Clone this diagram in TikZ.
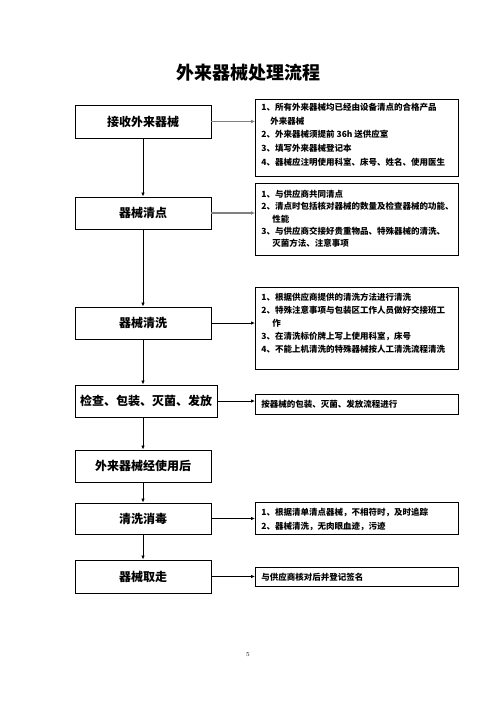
\documentclass[tikz,border=0pt]{standalone}
\usepackage{fontspec}
\newfontfamily\cjk{Noto Sans CJK SC}
\usetikzlibrary{arrows.meta}
\newcommand\rbtext[4]{\parbox[c][#1pt][t]{191pt}{\raggedright\fontsize{8.5pt}{#3pt}\selectfont\vspace*{#2pt}#4}}
\tikzset{
  lbox/.style={draw, line width=0.9pt, minimum width=136pt, minimum height=32pt, inner sep=0pt, font=\cjk\bfseries\fontsize{12pt}{14pt}\selectfont},
  rbox/.style={draw, line width=0.9pt, anchor=north west, inner xsep=6pt, inner ysep=0pt, font=\cjk\bfseries},
  varrow/.style={line width=0.8pt, -{Latex[length=4pt,width=3.5pt]}},
  harrow/.style={line width=0.8pt, -{Latex[length=4pt,width=3.5pt]}},
  garrow/.style={line width=1.6pt, draw=black!50, -{Latex[length=4pt,width=4pt]}, shorten >=0pt},
  titlestyle/.style={font=\cjk\bfseries\fontsize{18pt}{20pt}\selectfont, inner sep=0pt}
}
\begin{document}
\begin{tikzpicture}[x=1pt,y=-1pt]
\useasboundingbox (0,0) rectangle (496,702);
\node[titlestyle] (t) at (248,73) {外来器械处理流程};

\node[lbox, minimum height=33pt] (b1) at (143,121.5) {接收外来器械};
\node[lbox] (b2) at (143,213) {器械清点};
\node[lbox] (b3) at (143,323) {器械清洗};
\node[lbox, minimum width=142pt] (b4) at (146,401) {检查、包装、灭菌、发放};
\node[lbox] (b5) at (143,466) {外来器械经使用后};
\node[lbox, minimum height=31pt] (b6) at (143,518.5) {清洗消毒};
\node[lbox, minimum height=33pt] (b7) at (143,576.5) {器械取走};

\node[rbox] (r1) at (255,99) {\rbtext{77}{3.7}{13.7}{1、所有外来器械均已经由设备清点的合格产品\\\hspace*{9pt}外来器械\\2、外来器械须提前 36h 送供应室\\3、填写外来器械登记本\\4、器械应注明使用科室、床号、姓名、使用医生}};
\node[rbox] (r2) at (255,183) {\rbtext{72}{6.7}{12.3}{1、与供应商共同清点\\2、清点时包括核对器械的数量及检查器械的功能、\\\hspace*{11pt}性能\\3、与供应商交接好贵重物品、特殊器械的清洗、\\\hspace*{11pt}灭菌方法、注意事项}};
\node[rbox] (r3) at (255,287) {\rbtext{82}{5.7}{13}{1、根据供应商提供的清洗方法进行清洗\\2、特殊注意事项与包装区工作人员做好交接班工\\\hspace*{11pt}作\\3、在清洗标价牌上写上使用科室，床号\\4、不能上机清洗的特殊器械按人工清洗流程清洗}};
\node[rbox] (r4) at (255,394) {\rbtext{20}{5.7}{13}{按器械的包装、灭菌、发放流程进行}};
\node[rbox] (r6) at (255,502) {\rbtext{32}{5.7}{14}{1、根据清单清点器械，不相符时，及时追踪\\2、器械清洗，无肉眼血迹，污迹}};
\node[rbox] (r7) at (255,567) {\rbtext{19}{5.7}{13}{与供应商核对后并登记签名}};

\node[font=\fontsize{6pt}{7pt}\selectfont] (pg) at (248,655) {5};

\draw[varrow] (b1.south) -- (b2.north);
\draw[varrow] (b2.south) -- (b3.north);
\draw[varrow] (b3.south) -- (b3.south |- b4.north);
\draw[varrow] (b3.south |- b4.south) -- (b5.north);
\draw[varrow] (b5.south) -- (b6.north);
\draw[varrow] (b6.south) -- (b7.north);

\draw[garrow] (b1.east) -- (b1.east -| r1.west);
\draw[garrow] (b2.east) -- (b2.east -| r2.west);
\draw[harrow] (b3.east) -- (b3.east -| r3.west);
\draw[harrow] (b4.east) -- (b4.east -| r4.west);
\draw[harrow] (b6.east) -- (b6.east -| r6.west);
\draw[harrow] (b7.east) -- (b7.east -| r7.west);
\end{tikzpicture}
\end{document}
